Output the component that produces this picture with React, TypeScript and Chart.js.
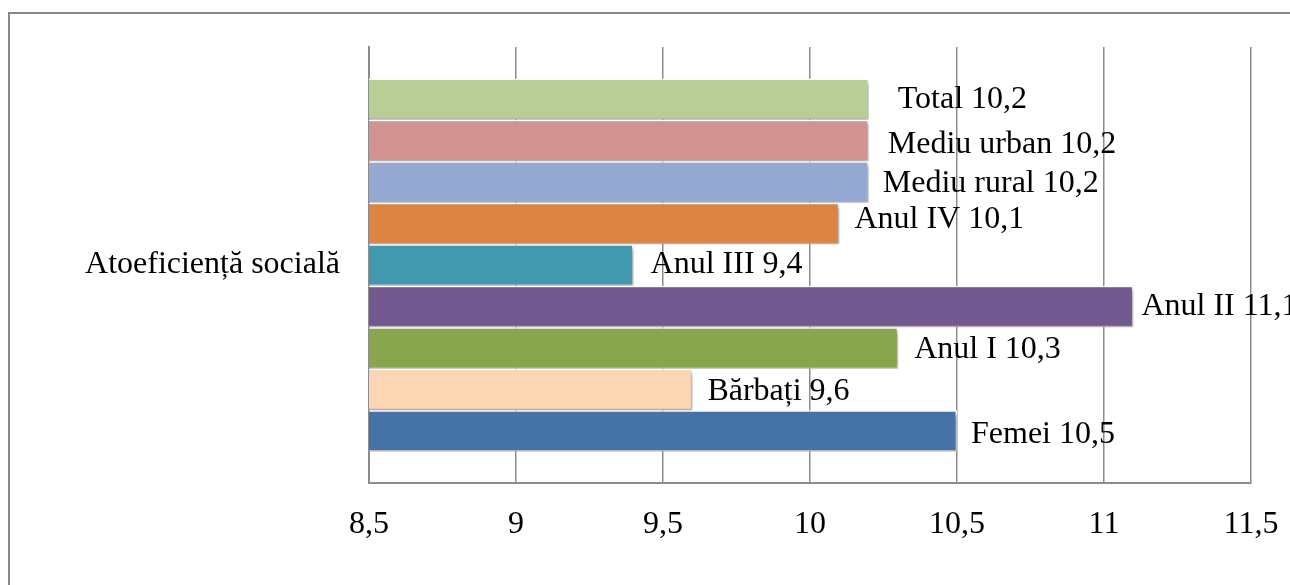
import React, { useEffect, useRef } from "react";
import { Chart, registerables } from "chart.js";

Chart.register(...registerables);

const categories = ["Atoeficiență socială"];
const seriesNames = [
  "Total",
  "Mediu urban",
  "Mediu rural",
  "Anul IV",
  "Anul III",
  "Anul II",
  "Anul I",
  "Bărbați",
  "Femei",
];
const seriesValues = [10.2, 10.2, 10.2, 10.1, 9.4, 11.1, 10.3, 9.6, 10.5];
const seriesColors = [
  "#B9CD96",
  "#D19391",
  "#95A9D3",
  "#DD8442",
  "#4198AF",
  "#71588F",
  "#89A54E",
  "#FCD5B5",
  "#4572A7",
];
const xTickMin = 8.5;
const xTickMax = 11.5;
const xTickStep = 0.5;

// label placement (style): horizontal gap after bar end, vertical shift
const labelDx = [29, 19, 14, 15, 17, 8, 16, 15, 14];
const labelDy = [0, 4, 2, -4, 0, 0, 2, 2, 4];

const FONT = "'Liberation Serif', 'Times New Roman', serif";
const FONT_SIZE = 32;
const fmt = (v: number) => String(v).replace(".", ",");

const shadowPlugin = {
  id: "barShadow",
  beforeDatasetsDraw(chart: any) {
    const ctx = chart.ctx;
    ctx.save();
    ctx.shadowColor = "rgba(0,0,0,0.35)";
    ctx.shadowOffsetX = 2;
    ctx.shadowOffsetY = 3;
    ctx.shadowBlur = 4;
  },
  afterDatasetsDraw(chart: any) {
    chart.ctx.restore();
  },
};

const labelPlugin = {
  id: "barLabels",
  afterDraw(chart: any) {
    const ctx = chart.ctx;
    ctx.save();
    ctx.font = `${FONT_SIZE}px ${FONT}`;
    ctx.fillStyle = "#000";
    ctx.textAlign = "left";
    ctx.textBaseline = "middle";
    chart.data.datasets.forEach((ds: any, i: number) => {
      const meta = chart.getDatasetMeta(i);
      const el = meta.data[0];
      if (!el) return;
      const text = `${ds.label} ${fmt(ds.data[0])}`;
      ctx.fillText(text, el.x + labelDx[i], el.y + labelDy[i]);
    });
    ctx.restore();
  },
};

export default function App() {
  const ref = useRef<HTMLCanvasElement | null>(null);

  useEffect(() => {
    if (!ref.current) return;
    const chart = new Chart(ref.current, {
      type: "bar",
      data: {
        labels: categories,
        datasets: seriesNames.map((name, i) => ({
          label: name,
          data: [seriesValues[i]],
          backgroundColor: seriesColors[i],
          borderColor: "#FFFFFF",
          borderWidth: 1.5,
          barPercentage: 1,
          categoryPercentage: 0.856,
        })),
      },
      options: {
        indexAxis: "y",
        animation: false,
        responsive: true,
        maintainAspectRatio: false,
        layout: { padding: { left: 0, right: 39, top: 47, bottom: 0 } },
        plugins: {
          legend: { display: false },
          tooltip: { enabled: false },
        },
        scales: {
          x: {
            min: xTickMin,
            max: xTickMax,
            ticks: {
              stepSize: xTickStep,
              color: "#000",
              font: { family: FONT, size: FONT_SIZE },
              padding: 22,
              callback: (v: any) => fmt(Number(v)),
            },
            grid: {
              color: "#8C8C8C",
              lineWidth: 1.5,
              drawTicks: false,
            },
            border: { color: "#8C8C8C", width: 2 },
            afterFit: (s: any) => {
              s.height = 102;
              s.paddingLeft = 0;
              s.paddingRight = 0;
            },
          },
          y: {
            ticks: {
              color: "#000",
              font: { family: FONT, size: FONT_SIZE },
              padding: 29,
            },
            grid: { display: false, drawTicks: false },
            border: { color: "#8C8C8C", width: 2 },
            afterFit: (s: any) => {
              s.width = 369;
              s.paddingTop = 0;
              s.paddingBottom = 0;
            },
          },
        },
      },
      plugins: [shadowPlugin, labelPlugin],
    });
    return () => chart.destroy();
  }, []);

  return (
    <div
      style={{
        position: "fixed",
        left: 0,
        top: 0,
        width: 1290,
        height: 585,
        overflow: "hidden",
        background: "#fff",
      }}
    >
      <div
        style={{
          position: "absolute",
          left: 8,
          top: 12,
          width: 1400,
          height: 700,
          border: "2px solid #888888",
          boxSizing: "border-box",
        }}
      />
      <div style={{ position: "absolute", left: 0, top: 0, width: 1290, height: 585 }}>
        <canvas ref={ref} />
      </div>
    </div>
  );
}
